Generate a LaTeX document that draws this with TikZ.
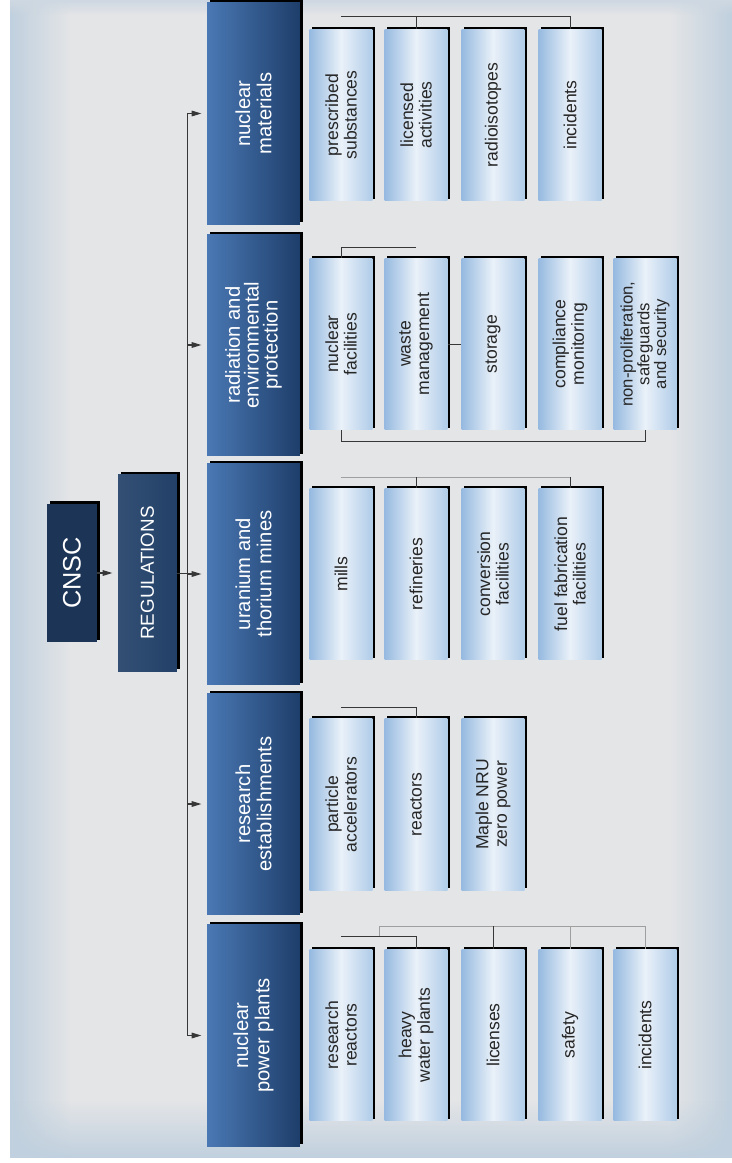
\documentclass[tikz,border=0pt]{standalone}
\usepackage{fontspec}
\setmainfont{Liberation Sans}
\usetikzlibrary{arrows.meta,shadows,fadings}

\definecolor{bgin}{RGB}{228,229,231}
\definecolor{bgout}{RGB}{192,208,222}
\definecolor{cnscblue}{RGB}{28,52,86}
\definecolor{regblue}{RGB}{34,64,104}
\definecolor{catlight}{RGB}{74,120,180}
\definecolor{catdark}{RGB}{30,62,106}
\definecolor{kidedge}{RGB}{150,186,224}
\definecolor{kidmid}{RGB}{234,241,249}
\definecolor{kidside}{RGB}{176,204,232}
\definecolor{wire}{RGB}{55,55,55}

\tikzset{
  hard shadow/.style={drop shadow={shadow xshift=1.6pt, shadow yshift=1.2pt, opacity=1, fill=black}},
  cnscbox/.style={rotate=90, inner sep=0pt, minimum width=2.78cm, minimum height=1cm,
    fill=cnscblue, text=white, hard shadow, font=\fontsize{14.4}{15}\selectfont},
  regbox/.style={rotate=90, inner sep=0pt, minimum width=3.94cm, minimum height=1.18cm,
    left color=regblue!92!white, right color=regblue, text=white, hard shadow,
    font=\fontsize{10.7}{12}\selectfont},
  catbox/.style={rotate=90, inner sep=0pt, minimum width=4.44cm, minimum height=1.86cm,
    align=center, left color=catlight, right color=catdark, text=white, hard shadow,
    font=\fontsize{11.5}{12}\selectfont},
  kidbox/.style={rotate=90, inner sep=0pt, minimum width=3.44cm, minimum height=1.26cm,
    align=center, left color=kidedge, right color=kidside, middle color=kidmid,
    text=black!85, hard shadow, font=\fontsize{10}{10.5}\selectfont},
  arr/.style={-{Triangle[length=5.5pt,width=3.2pt]}, draw=wire, line width=0.6pt, shorten >=3pt},
  link/.style={draw=wire, line width=0.5pt},
  faint/.style={draw=gray!75, line width=0.5pt},
}

\begin{document}
\begin{tikzpicture}[x=0.02cm, y=-0.02cm]
  \useasboundingbox (0,0) rectangle (732,1163);

  % backdrop
  \fill[white] (0,0) rectangle (732,1163);
  \fill[bgin] (10,0) rectangle (732,1158);
  \fill[bgout, path fading=east] (10,0) rectangle (70,1158);
  \fill[bgout, path fading=west] (670,0) rectangle (732,1158);
  \fill[bgout, path fading=north] (10,1100) rectangle (732,1158);
  \fill[bgout!60!bgin, path fading=south] (10,0) rectangle (732,15);

  % Specification of nodes (position, etc.)
  \node[cnscbox] (cnsc) at (72,573) {CNSC};
  \node[regbox] (reg) at (147.5,573) {REGULATIONS};

  \node[catbox] (mat) at (253.5,113.5) {nuclear\\materials};
  \node[catbox, font=\fontsize{11.5}{10.8}\selectfont] (rad) at (253.5,345) {radiation and\\environmental\\protection};
  \node[catbox] (ura) at (253.5,574) {uranium and\\thorium mines};
  \node[catbox] (res) at (253.5,804) {research\\establishments};
  \node[catbox] (npp) at (253.5,1035.5) {nuclear\\power plants};

  \node[kidbox] (m1) at (341,115) {prescribed\\substances};
  \node[kidbox] (m2) at (416,115) {licensed\\activities};
  \node[kidbox] (m3) at (493,115) {radioisotopes};
  \node[kidbox] (m4) at (570,115) {incidents};

  \node[kidbox] (r1) at (341,344) {nuclear\\facilities};
  \node[kidbox] (r2) at (416,344) {waste\\management};
  \node[kidbox] (r3) at (493,344) {storage};
  \node[kidbox] (r4) at (570,344) {compliance\\monitoring};
  \node[kidbox, font=\fontsize{9.5}{9.5}\selectfont] (r5) at (645,344) {non-proliferation,\\safeguards\\and security};

  \node[kidbox] (u1) at (341,574) {mills};
  \node[kidbox] (u2) at (416,574) {refineries};
  \node[kidbox] (u3) at (493,574) {conversion\\facilities};
  \node[kidbox] (u4) at (570,574) {fuel fabrication\\facilities};

  \node[kidbox] (e1) at (341,804.5) {particle\\accelerators};
  \node[kidbox] (e2) at (416,804.5) {reactors};
  \node[kidbox] (e3) at (493,804.5) {Maple NRU\\zero power};

  \node[kidbox] (p1) at (341,1035) {research\\reactors};
  \node[kidbox] (p2) at (416,1035) {heavy\\water plants};
  \node[kidbox] (p3) at (493,1035) {licenses};
  \node[kidbox] (p4) at (570,1035) {safety};
  \node[kidbox] (p5) at (645,1035) {incidents};

  % trunk
  \coordinate (ttop) at (187,113.5);
  \coordinate (tbot) at (187,1035.5);

  \begin{scope}[link]
    \draw[arr] (cnsc) -- (reg);
    \draw (reg) -- (reg -| ttop);
    \draw (ttop) -- (tbot);
    \draw[arr] (ttop) -- (mat);
    \draw[arr] (rad -| ttop) -- (rad);
    \draw[arr] (ura -| ttop) -- (ura);
    \draw[arr] (res -| ttop) -- (res);
    \draw[arr] (tbot) -- (npp);
  \end{scope}

  % nuclear materials
  \coordinate (mbus) at (0,16);
  \draw[link] (m1 |- mbus) -- (m4 |- mbus);
  \draw[link] (m2 |- mbus) -- (m2);
  \draw[link] (m4 |- mbus) -- (m4);

  % radiation and environmental protection
  \coordinate (rbus) at (0,247);
  \coordinate (rfoot) at (0,441);
  \draw[link] (r2 |- rbus) -- (r1 |- rbus) -- (r1);
  \draw[link] (r2) -- (r3);
  \draw[link] (r1) -- (r1 |- rfoot) -- (r5 |- rfoot) -- (r5);

  % uranium and thorium mines
  \coordinate (ubus) at (0,477);
  \draw[faint] (u1 |- ubus) -- (u4 |- ubus);
  \draw[link] (u2 |- ubus) -- (u2);
  \draw[link] (u4 |- ubus) -- (u4);

  % research establishments
  \coordinate (ebus) at (0,707);
  \draw[link] (e1 |- ebus) -- (e2 |- ebus) -- (e2);

  % nuclear power plants
  \coordinate (pbus) at (379,926);
  \coordinate (pstep) at (0,936);
  \draw[link] (p1 |- pstep) -- (p2 |- pstep) -- (p2);
  \draw[faint] (pbus |- pstep) -- (pbus) -- (p5 |- pbus) -- (p5);
  \draw[link] (p3 |- pbus) -- (p3);
  \draw[faint] (p4 |- pbus) -- (p4);

\end{tikzpicture}
\end{document}
